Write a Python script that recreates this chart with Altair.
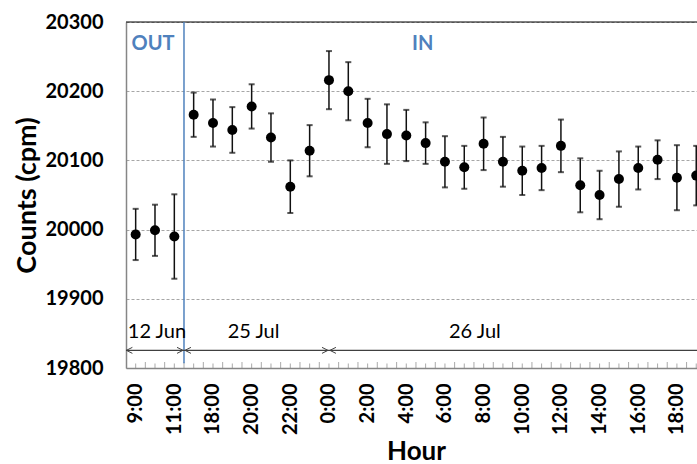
import altair as alt
import pandas as pd

# Hourly count rates: three outdoor readings (12 Jun), then indoor (25-26 Jul)
hours = ["9:00", "10:00", "11:00",
         "17:00", "18:00", "19:00", "20:00", "21:00", "22:00", "23:00",
         "0:00", "1:00", "2:00", "3:00", "4:00", "5:00", "6:00", "7:00", "8:00", "9:00",
         "10:00", "11:00", "12:00", "13:00", "14:00", "15:00", "16:00", "17:00", "18:00", "19:00"]
counts = [19993, 19999, 19990,
          20166, 20154, 20144, 20178, 20133, 20062, 20114,
          20216, 20200, 20154, 20138, 20136, 20125, 20098, 20090, 20124, 20098,
          20085, 20089, 20121, 20064, 20050, 20073, 20089, 20101, 20075, 20078]
errors = [37, 37, 61,
          32, 34, 33, 32, 35, 38, 37,
          42, 42, 35, 43, 37, 30, 37, 31, 38, 36,
          35, 32, 38, 39, 35, 40, 31, 28, 47, 43]
n_out = 3
date_names = ["12 Jun", "25 Jul", "26 Jul"]
date_centers = [1.1, 6.1, 17.55]

PLOT_W, PLOT_H = 571, 346
STEP = 19.33                      # pixels per hourly category
x_min = -0.5
x_max = x_min + PLOT_W / STEP
y_lo, y_hi = 19800, 20300

FONT = "Lato"
BLUE = "#4f81bd"
AXIS_GRAY = "#868686"

idx = list(range(len(hours)))
df = pd.DataFrame({
    "i": idx,
    "hour": hours,
    "counts": counts,
    "lo": [c - e for c, e in zip(counts, errors)],
    "hi": [c + e for c, e in zip(counts, errors)],
})

out_edge = n_out - 0.5                 # OUT / IN boundary
day_edge = hours.index("0:00", n_out)  # midnight between 25 and 26 Jul

label_lookup = "[" + ",".join(f"'{h}'" for h in hours) + "][datum.value]"

x_scale = alt.Scale(domain=[x_min, x_max], nice=False, zero=False)
y_scale = alt.Scale(domain=[y_lo, y_hi], nice=False, zero=False)

x_axis = alt.Axis(
    values=idx[::2], labelExpr=label_lookup, labelAngle=270,
    labelFont=FONT, labelFontSize=20, labelFontWeight="bold", labelColor="black",
    labelPadding=15, ticks=False, tickSize=0, grid=False,
    domainColor=AXIS_GRAY, domainWidth=1.5,
    title="Hour", titleFont=FONT, titleFontSize=26, titleFontWeight="bold",
    titleColor="black", titleX=290, titleY=91, titleAlign="center",
    titleBaseline="alphabetic",
)
y_axis = alt.Axis(
    values=[19800, 19900, 20000, 20100, 20200, 20300], format="d",
    labelFont=FONT, labelFontSize=20, labelFontWeight="bold", labelColor="black",
    labelPadding=23, ticks=False, tickSize=0,
    grid=True, gridColor="#a6a6a6", gridDash=[3, 2], gridWidth=1,
    domainColor=AXIS_GRAY, domainWidth=1.5,
    title="Counts (cpm)", titleFont=FONT, titleFontSize=27, titleFontWeight="bold",
    titleColor="black", titleX=-91, titleY=173, titleAlign="center",
    titleBaseline="alphabetic", titleAngle=270,
)

base = alt.Chart(df)

# axes and gridlines (invisible carrier layer)
frame = base.mark_point(opacity=0).encode(
    x=alt.X("i:Q", scale=x_scale, axis=x_axis),
    y=alt.Y("counts:Q", scale=y_scale, axis=y_axis),
)

# top border of the plot area
top_border = alt.Chart(pd.DataFrame({"a": [x_min], "b": [x_max], "y": [y_hi]})).mark_rule(
    color="black", strokeWidth=1.2
).encode(x=alt.X("a:Q", scale=x_scale), x2="b:Q", y=alt.Y("y:Q", scale=y_scale))

# category tick marks pointing into the plot
tick_pos = [x_min + 0.5 * k for k in range(2 * len(hours) + 2)]
ticks_df = pd.DataFrame({
    "x": tick_pos,
    "major": [k % 2 == 0 for k in range(len(tick_pos))],
})
major_ticks = alt.Chart(ticks_df).transform_filter("datum.major").mark_tick(
    orient="vertical", size=6, thickness=1, color=AXIS_GRAY, yOffset=-3, clip=True
).encode(x=alt.X("x:Q", scale=x_scale), y=alt.datum(y_lo, scale=y_scale))
minor_ticks = alt.Chart(ticks_df).transform_filter("!datum.major").mark_tick(
    orient="vertical", size=4.5, thickness=1, color=AXIS_GRAY, yOffset=-2.25, clip=True
).encode(x=alt.X("x:Q", scale=x_scale), y=alt.datum(y_lo, scale=y_scale))

# OUT / IN divider
divider = alt.Chart(pd.DataFrame({"x": [out_edge], "y": [y_hi], "y2": [19807]})).mark_rule(
    color=BLUE, strokeWidth=1.5
).encode(x=alt.X("x:Q", scale=x_scale), y=alt.Y("y:Q", scale=y_scale), y2="y2:Q")

# date span line with chevron arrows
span_y = 19825.5
span_line = alt.Chart(pd.DataFrame({"a": [x_min], "b": [x_max], "y": [span_y]})).mark_rule(
    color="#404040", strokeWidth=1.3
).encode(x=alt.X("a:Q", scale=x_scale), x2="b:Q", y=alt.Y("y:Q", scale=y_scale))

gap = 0.05
left_arrows = alt.Chart(pd.DataFrame({"x": [x_min + 0.02, out_edge + gap, day_edge + gap]})).mark_point(
    shape="M2,-1L0,0L2,1", filled=False, size=36, color="#404040", strokeWidth=1, opacity=1
).encode(x=alt.X("x:Q", scale=x_scale), y=alt.datum(span_y, scale=y_scale))
right_arrows = alt.Chart(pd.DataFrame({"x": [out_edge - gap, day_edge - gap]})).mark_point(
    shape="M-2,-1L0,0L-2,1", filled=False, size=36, color="#404040", strokeWidth=1, opacity=1
).encode(x=alt.X("x:Q", scale=x_scale), y=alt.datum(span_y, scale=y_scale))

date_labels = alt.Chart(pd.DataFrame({"x": date_centers, "t": date_names})).mark_text(
    font=FONT, fontSize=20, color="black", baseline="alphabetic", align="center"
).encode(x=alt.X("x:Q", scale=x_scale), y=alt.datum(19843, scale=y_scale), text="t:N")

place_labels = alt.Chart(pd.DataFrame({"x": [0.9, 14.85], "t": ["OUT", "IN"]})).mark_text(
    font=FONT, fontSize=20, fontWeight="bold", color=BLUE, baseline="alphabetic", align="center"
).encode(x=alt.X("x:Q", scale=x_scale), y=alt.datum(20260, scale=y_scale), text="t:N")

# error bars with caps, then the hourly means
bars = base.mark_rule(color="#111111", strokeWidth=1.5, clip=True).encode(
    x=alt.X("i:Q", scale=x_scale), y=alt.Y("lo:Q", scale=y_scale), y2="hi:Q"
)
caps_hi = base.mark_tick(orient="horizontal", size=6, thickness=2, color="#111111", clip=True).encode(
    x=alt.X("i:Q", scale=x_scale), y=alt.Y("hi:Q", scale=y_scale)
)
caps_lo = base.mark_tick(orient="horizontal", size=6, thickness=2, color="#111111", clip=True).encode(
    x=alt.X("i:Q", scale=x_scale), y=alt.Y("lo:Q", scale=y_scale)
)
points = base.mark_circle(size=100, color="black", opacity=1, clip=True).encode(
    x=alt.X("i:Q", scale=x_scale), y=alt.Y("counts:Q", scale=y_scale)
)

chart = alt.layer(
    frame, top_border, major_ticks, minor_ticks, divider, span_line,
    left_arrows, right_arrows, date_labels, place_labels,
    bars, caps_hi, caps_lo, points,
).properties(
    width=PLOT_W, height=PLOT_H,
    autosize=alt.AutoSizeParams(type="none"),
    padding={"left": 126, "top": 22, "right": 0, "bottom": 96},
    background="white",
).configure_view(stroke=None)

chart.save("out.html", embed_options={"renderer": "svg", "actions": False})
